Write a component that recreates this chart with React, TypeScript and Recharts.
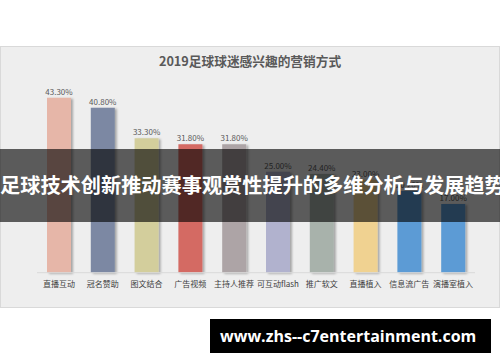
import { BarChart, Bar, XAxis, YAxis, Cell, LabelList } from "recharts"

const categories = ["直播互动", "冠名赞助", "图文结合", "广告视频", "主持人推荐", "可互动flash", "推广软文", "直播植入", "信息流广告", "演播室植入"]
const values = [43.3, 40.8, 33.3, 31.8, 31.8, 25.0, 24.4, 23.0, 20.2, 17.0]
const colors = ["#E6B6A8", "#7B88A3", "#D3CE9C", "#D46A64", "#ADA4A6", "#B1B2CE", "#A8B2AB", "#F0D291", "#5B9BD5", "#5B9BD5"]

const data = categories.map((name, i) => ({ name, value: values[i] }))

const font = "'Noto Sans CJK SC', 'Noto Sans', sans-serif"

export default function App() {
  return (
    <div style={{ position: "absolute", left: 0, top: 0, width: 500, height: 362, background: "#fff", fontFamily: font, overflow: "hidden" }}>
      <div style={{ position: "absolute", left: 0, top: 46, width: 498, height: 260, background: "#eeeeee", border: "1px solid #d9d9d9" }} />
      <div style={{ position: "absolute", left: 0, top: 51, width: 500, textAlign: "center", fontSize: 12.7, fontWeight: "bold", color: "#595959" }}>
        2019足球球迷感兴趣的营销方式
      </div>
      <div style={{ position: "absolute", left: 0, top: 46 }}>
        <BarChart width={500} height={262} data={data} margin={{ top: 24.7, right: 25, bottom: 0, left: 37 }} barSize={24}>
          <defs>
            <filter id="sh" x="-20%" y="-5%" width="150%" height="115%">
              <feDropShadow dx="2" dy="1" stdDeviation="1" floodColor="#000" floodOpacity="0.3" />
            </filter>
          </defs>
          <XAxis
            dataKey="name"
            height={35.3}
            tickLine={false}
            axisLine={{ stroke: "#d9d9d9" }}
            interval={0}
            tick={{ fontSize: 8, fill: "#404040", fontFamily: font }}
            tickMargin={3}
          />
          <YAxis hide domain={[0, 50]} />
          <Bar dataKey="value" isAnimationActive={false} style={{ filter: "url(#sh)" }}>
            {data.map((d, i) => (
              <Cell key={d.name} fill={colors[i]} />
            ))}
            <LabelList
              dataKey="value"
              position="top"
              offset={3}
              formatter={(v: number) => `${v.toFixed(2)}%`}
              style={{ fontSize: 8, fill: "#595959", fontFamily: font }}
            />
          </Bar>
        </BarChart>
      </div>
      <div style={{ position: "absolute", left: 0, top: 149, width: 500, height: 72.5, background: "rgba(0,0,0,0.62)" }} />
      <div style={{ position: "absolute", left: 0, top: 171, whiteSpace: "nowrap", fontSize: 20.2, lineHeight: "28px", fontWeight: "bold", color: "#fff" }}>
        足球技术创新推动赛事观赏性提升的多维分析与发展趋势
      </div>
      <div style={{ position: "absolute", left: 210, top: 319, width: 281, height: 34, background: "#000", color: "#fff", fontFamily: "'Open Sans', sans-serif", fontWeight: "bold", fontSize: 16, lineHeight: "34px", paddingLeft: 10, boxSizing: "border-box", whiteSpace: "nowrap" }}>
        www.zhs--c7entertainment.com
      </div>
    </div>
  )
}
